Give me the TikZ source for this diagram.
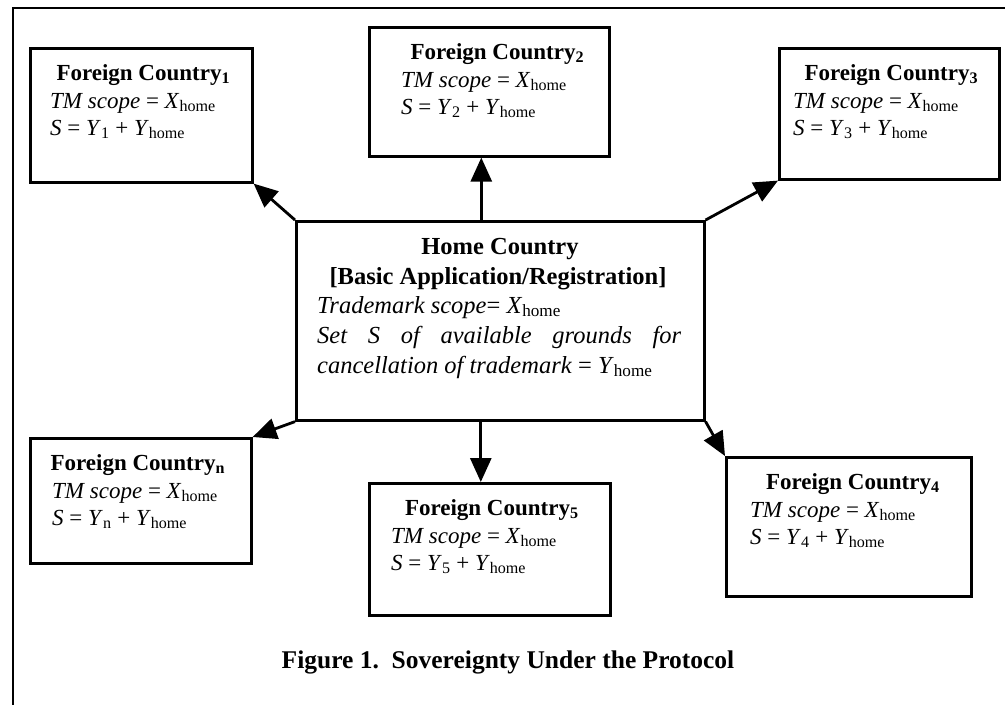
\documentclass[tikz,border=0pt]{standalone}
\usepackage{fontspec}
\setmainfont{Liberation Serif}
\usetikzlibrary{arrows.meta}
\newcommand{\hsub}{\textsubscript{\normalfont home}}
\newcommand{\fctext}[4]{%
  \path (#1.north) ++(#4,33) node[fct, anchor=base] (#1a) {\textbf{Foreign Country\textsubscript{#2}}};
  \path (#1.north west) ++(#3,61) node[fct, anchor=base west] (#1b) {\textit{TM scope} = \textit{X}\hsub};
  \path (#1.north west) ++(#3,88) node[fct, anchor=base west] (#1c) {\textit{S} = \textit{Y}\textsubscript{#2} + \textit{Y}\hsub};
}
\begin{document}
\begin{tikzpicture}[x=1pt,y=-1pt,
  box/.style={draw, line width=2.6pt, inner sep=0pt, anchor=north west},
  fct/.style={inner sep=0pt, font=\fontsize{23}{27}\selectfont},
  htxt/.style={inner sep=0pt, font=\fontsize{24.5}{29}\selectfont},
  arr/.style={line width=2.8pt, -{Triangle[length=24pt,width=21pt]}},
  frame/.style={line width=2.6pt}
]
\useasboundingbox (0,0) rectangle (1005,705);
\draw[frame] (1005,8) -- (13,8) -- (13,705);

% boxes
\node[box, minimum width=222pt, minimum height=134pt] (fc1) at (29,47) {};
\node[box, minimum width=240pt, minimum height=129pt] (fc2) at (368,26) {};
\node[box, minimum width=220pt, minimum height=131pt] (fc3) at (778,47) {};
\node[box, minimum width=408pt, minimum height=199pt] (home) at (295,220) {};
\node[box, minimum width=221pt, minimum height=125pt] (fcn) at (29,437) {};
\node[box, minimum width=241pt, minimum height=132pt] (fc5) at (368,482) {};
\node[box, minimum width=245pt, minimum height=139pt] (fc4) at (725,456) {};

% texts of the foreign boxes
\fctext{fc1}{1}{21}{2}
\fctext{fc2}{2}{33}{8}
\fctext{fc3}{3}{15}{2}
\fctext{fcn}{n}{23}{-3}
\fctext{fc5}{5}{23}{2}
\fctext{fc4}{4}{25}{4}

% home text
\node[htxt, anchor=base] (h1) at (500,254) {\textbf{Home Country}};
\node[htxt, anchor=base] (h2) at (498,284) {\textbf{[Basic Application/Registration]}};
\node[htxt, anchor=base west] (h3) at (317,313) {\textit{Trademark scope}= \textit{X}\hsub};
\node[htxt, anchor=base west] (h4) at (317,343) {\makebox[364pt][s]{\itshape Set S of available grounds for}};
\node[htxt, anchor=base west] (h5) at (317,373) {\textit{cancellation of trademark} = \textit{Y}\hsub};

\node[inner sep=0pt, anchor=base, font=\fontsize{25.5}{30}\selectfont\bfseries] (cap) at (508,668) {Figure 1.\ \ Sovereignty Under the Protocol};

% arrows
\draw[arr] (home.north west) -- (fc1.south east);
\draw[arr] ([xshift=-8pt]fc2.south |- home.north) -- ([xshift=-8pt]fc2.south);
\draw[arr] (home.north east) -- (fc3.south west);
\draw[arr] (home.south west) -- (fcn.north east);
\draw[arr] ([xshift=-9pt]fc5.north |- home.south) -- ([xshift=-9pt]fc5.north);
\draw[arr] (home.south east) -- (fc4.north west);
\end{tikzpicture}
\end{document}
